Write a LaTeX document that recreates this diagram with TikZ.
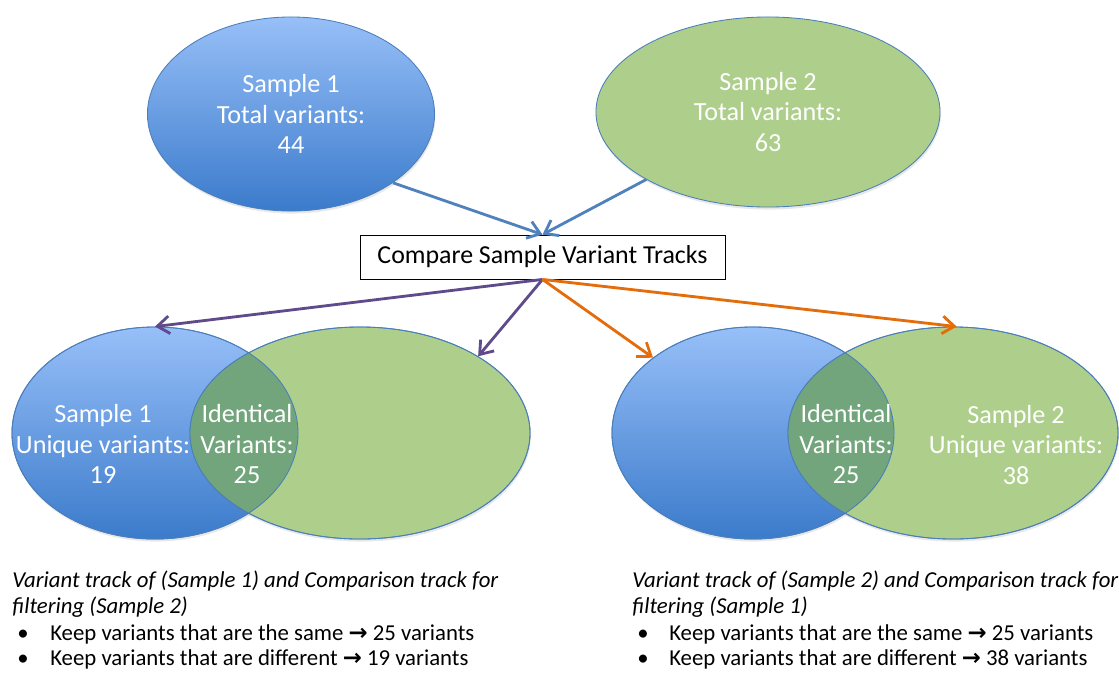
\documentclass[tikz,border=0pt]{standalone}
\usepackage{fontspec}
\setmainfont{Carlito}
\newfontfamily\symfont{DejaVu Sans}
\usepackage{tikz}
\usetikzlibrary{positioning,arrows.meta,shapes.geometric,shadows}
\definecolor{bluetop}{HTML}{97BFF8}
\definecolor{bluebot}{HTML}{3B7BCB}
\definecolor{greenfill}{HTML}{ADCF8B}
\definecolor{overlapcol}{HTML}{72A57B}
\definecolor{rimcol}{HTML}{4A7EBB}
\definecolor{bluecol}{HTML}{4F81BD}
\definecolor{purplecol}{HTML}{5F4B8B}
\definecolor{orangecol}{HTML}{E46C0A}
\newcommand{\toarrow}{{\symfont\bfseries\char"2192}}
\tikzset{
  blob/.style={ellipse, draw=rimcol, line width=0.6pt, inner sep=0pt,
    text=white, align=center, font=\fontsize{18.6}{21.6}\selectfont,
    drop shadow={opacity=0.18, shadow xshift=0.6pt, shadow yshift=-1.8pt}},
  blueblob/.style={blob, top color=bluetop, bottom color=bluebot},
  greenblob/.style={blob, fill=greenfill},
  vtext/.style={text=white, align=center, inner sep=0pt,
    font=\fontsize{18.6}{21.8}\selectfont},
  rim/.style={draw=rimcol, line width=0.6pt},
  cmpbox/.style={draw=black, line width=0.6pt, fill=white, inner sep=0pt,
    minimum width=9.125cm, minimum height=1.1cm,
    font=\fontsize{18.4}{21.6}\selectfont},
  link/.style={-{Straight Barb[length=3mm, width=4.4mm]}, line width=2pt},
  note/.style={anchor=base west, inner sep=0pt, font=\fontsize{16.2}{19}\selectfont}}
\begin{document}
\begin{tikzpicture}[x=0.025cm, y=-0.025cm]
  \path[use as bounding box, fill=white] (0,0) rectangle (1119,673);
  % totals
  \node[blueblob, minimum width=7.175cm, minimum height=4.85cm] (s1) at (291,114)
    {Sample 1\\Total variants:\\44};
  \node[greenblob, minimum width=8.6cm, minimum height=4.75cm] (s2) at (768,112)
    {Sample 2\\Total variants:\\63};
  \node[cmpbox] (cmp) at (542.5,257) {Compare Sample Variant Tracks};
  % left venn
  \node[blueblob, minimum width=7.15cm, minimum height=5.3cm] (b1) at (155,433) {};
  \node[greenblob, minimum width=8.5cm, minimum height=5.3cm] (g1) at (360,433) {};
  \begin{scope}
    \clip (b1.center) ellipse [x radius=3.575cm, y radius=2.65cm];
    \fill[overlapcol] (g1.center) ellipse [x radius=4.25cm, y radius=2.65cm];
  \end{scope}
  \draw[rim] (b1.center) ellipse [x radius=3.575cm, y radius=2.65cm];
  \draw[rim] (g1.center) ellipse [x radius=4.25cm, y radius=2.65cm];
  % right venn
  \node[blueblob, minimum width=7.05cm, minimum height=5.3cm] (b2) at (753,433) {};
  \node[greenblob, minimum width=8.25cm, minimum height=5.3cm] (g2) at (953,433) {};
  \begin{scope}
    \clip (b2.center) ellipse [x radius=3.525cm, y radius=2.65cm];
    \fill[overlapcol] (g2.center) ellipse [x radius=4.125cm, y radius=2.65cm];
  \end{scope}
  \draw[rim] (b2.center) ellipse [x radius=3.525cm, y radius=2.65cm];
  \draw[rim] (g2.center) ellipse [x radius=4.125cm, y radius=2.65cm];
  \node[vtext] (u1) at (103,444) {Sample 1\\Unique variants:\\19};
  \node[vtext] (i1) at (247,444) {Identical\\Variants:\\25};
  \node[vtext] (i2) at (846,444) {Identical\\Variants:\\25};
  \node[vtext] (u2) at (1016,445) {Sample 2\\Unique variants:\\38};
  % connectors
  \draw[link, bluecol] (s1.-34.5) -- (cmp.north);
  \draw[link, bluecol] (s2.-151) -- (cmp.north);
  \draw[link, purplecol] (cmp.south) -- (b1.north);
  \draw[link, purplecol] (cmp.south) -- (g1.33);
  \draw[link, orangecol] (cmp.south) -- (b2.143);
  \draw[link, orangecol] (cmp.south) -- (g2.88);
  % filter notes
  \node[note] (n1a) at (12,587) {\itshape Variant track of (Sample 1) and Comparison track for};
  \node[note] (n1b) at (12,613) {\itshape filtering (Sample 2)};
  \node[note] (d1a) at (17,640) {•};
  \node[note] (k1a) at (50,640) {Keep variants that are the same \toarrow{} 25 variants};
  \node[note] (d1b) at (17,665) {•};
  \node[note] (k1b) at (50,665) {Keep variants that are different \toarrow{} 19 variants};
  \node[note] (n2a) at (632,587) {\itshape Variant track of (Sample 2) and Comparison track for};
  \node[note] (n2b) at (632,613) {\itshape filtering (Sample 1)};
  \node[note] (d2a) at (637,640) {•};
  \node[note] (k2a) at (669,640) {Keep variants that are the same \toarrow{} 25 variants};
  \node[note] (d2b) at (637,665) {•};
  \node[note] (k2b) at (669,665) {Keep variants that are different \toarrow{} 38 variants};
\end{tikzpicture}
\end{document}
